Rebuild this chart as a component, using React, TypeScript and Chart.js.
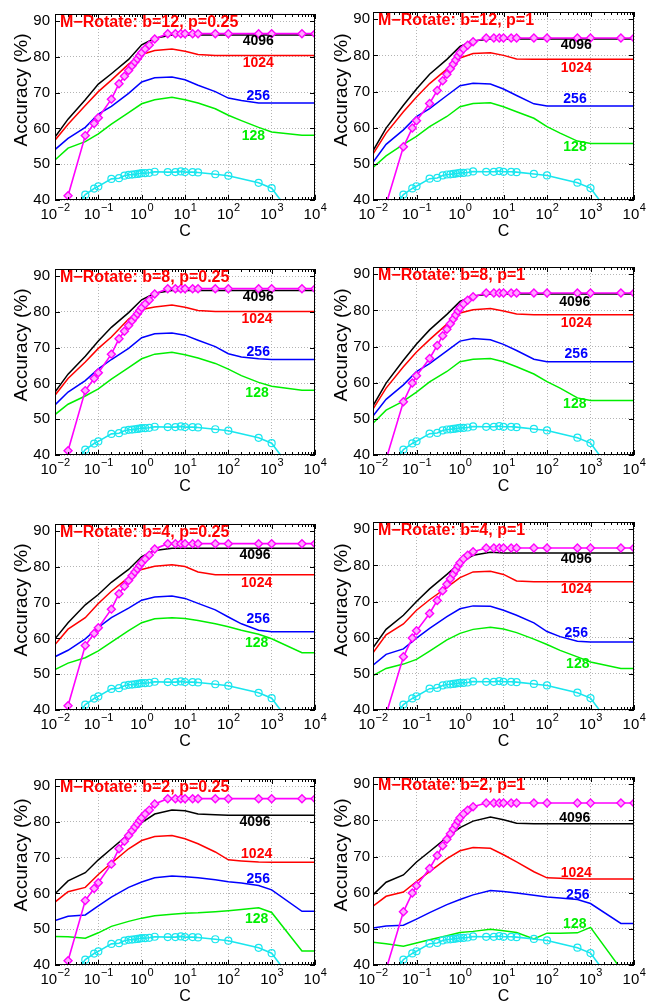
import React, { useEffect, useRef } from 'react';
import { Chart, registerables } from 'chart.js';

Chart.register(...registerables);

const FONT = "'Liberation Sans', Arial, Helvetica, sans-serif";

// x values (C) for the four code-length curves
const C_LINE = [0.01, 0.02, 0.05, 0.1, 0.2, 0.5, 1, 2, 5, 10, 20, 50, 100, 200, 500, 1000, 5000, 10000];
// x values (C) for the two marker curves
const C_MARK = [0.02, 0.05, 0.08, 0.1, 0.2, 0.3, 0.4, 0.5, 0.6, 0.7, 0.8, 0.9, 1, 1.2, 1.5, 2, 4, 6, 8, 10, 15, 20, 50, 100, 500, 1000, 5000, 10000];

const MAGENTA_P025 = [41.2, 58.0, 61.4, 63.0, 68.2, 72.5, 74.6, 76.2, 77.5, 78.6, 79.5, 80.4, 81.2, 82.2, 83.3, 85.0, 86.5, 86.5, 86.5, 86.5, 86.5, 86.5, 86.5, 86.5, 86.5, 86.5, 86.5, 86.5];
const MAGENTA_P1 = [38.8, 54.7, 59.9, 61.9, 66.7, 70.3, 73.0, 74.8, 76.3, 77.6, 78.7, 79.8, 80.7, 81.8, 82.8, 83.8, 84.8, 84.8, 84.8, 84.8, 84.8, 84.8, 84.8, 84.8, 84.8, 84.8, 84.8, 84.8];
const CYAN = [35.0, 41.5, 43.2, 43.8, 45.9, 46.1, 46.8, 47.05, 47.1, 47.2, 47.3, 47.4, 47.5, 47.5, 47.6, 47.9, 47.8, 47.8, 48.0, 47.8, 47.8, 47.7, 47.2, 46.8, 44.8, 43.3, 32.0, 25.0];

const Y_TICKS = [40, 50, 60, 70, 80, 90];
const X_TICKS = [0.01, 0.1, 1, 10, 100, 1000, 10000];
const X_EXP = ['\u22122', '\u22121', '0', '1', '2', '3', '4'];
const CURVE_LABELS = ['4096', '1024', '256', '128'];

// b=12, p=0.25
const B12_P025_4096 = [57.6, 62.6, 68.0, 72.4, 75.3, 79.3, 83.4, 85.2, 86.1, 86.1, 86.1, 86.1, 86.1, 86.1, 86.1, 86.1, 86.1, 86.1];
const B12_P025_1024 = [56.7, 61.2, 66.4, 70.3, 73.5, 78.0, 80.7, 81.8, 82.2, 81.6, 80.7, 80.4, 80.4, 80.4, 80.4, 80.4, 80.4, 80.4];
const B12_P025_256 = [54.1, 57.2, 60.3, 64.0, 66.2, 69.8, 73.0, 74.2, 74.4, 73.6, 72.1, 70.3, 68.5, 67.8, 67.1, 67.1, 67.1, 67.1];
const B12_P025_128 = [51.2, 54.5, 56.3, 58.5, 61.2, 64.4, 66.9, 68.0, 68.7, 68.0, 67.1, 65.5, 63.7, 62.2, 60.3, 59.0, 58.1, 58.1];
const B12_P025_LABEL_Y = [84.3, 78.4, 68.9, 57.8];
const B12_P025_LABEL_C = [490, 490, 490, 380];

// b=12, p=1
const B12_P1_4096 = [53.6, 59.9, 66.2, 70.7, 74.8, 78.9, 82.5, 84.0, 84.5, 84.5, 84.5, 84.5, 84.5, 84.5, 84.5, 84.5, 84.5, 84.5];
const B12_P1_1024 = [52.7, 58.5, 64.4, 68.5, 72.2, 76.2, 79.3, 80.5, 80.7, 80.0, 79.0, 78.9, 78.9, 78.9, 78.9, 78.9, 78.9, 78.9];
const B12_P1_256 = [50.4, 55.4, 59.4, 63.1, 65.3, 68.9, 71.6, 72.3, 72.1, 70.7, 68.9, 66.6, 66.0, 66.0, 66.0, 66.0, 66.0, 66.0];
const B12_P1_128 = [49.0, 52.2, 55.4, 57.6, 60.3, 63.1, 65.8, 66.7, 66.9, 65.8, 64.4, 62.6, 60.3, 58.5, 56.3, 55.6, 55.6, 55.6];
const B12_P1_LABEL_Y = [82.7, 76.6, 68.0, 54.5];
const B12_P1_LABEL_C = [470, 470, 440, 440];

// b=8, p=0.25
const B8_P025_4096 = [57.6, 62.6, 67.6, 71.9, 75.7, 79.8, 83.4, 85.2, 86.0, 86.0, 86.0, 86.0, 86.0, 86.0, 86.0, 86.0, 86.0, 86.0];
const B8_P025_1024 = [56.7, 61.4, 66.0, 69.8, 73.0, 78.0, 80.7, 81.4, 81.9, 81.3, 80.4, 80.1, 80.1, 80.1, 80.1, 80.1, 80.1, 80.1];
const B8_P025_256 = [54.0, 57.6, 60.8, 64.1, 66.7, 69.8, 72.8, 73.9, 74.1, 73.5, 72.1, 70.3, 68.3, 67.4, 66.9, 66.7, 66.7, 66.7];
const B8_P025_128 = [51.3, 54.2, 56.5, 58.5, 61.2, 64.4, 66.9, 68.2, 68.7, 68.0, 67.1, 65.6, 64.0, 62.2, 60.3, 59.2, 58.1, 58.1];
const B8_P025_LABEL_Y = [84.0, 78.0, 68.7, 57.4];
const B8_P025_LABEL_C = [490, 460, 490, 460];

// b=8, p=1
const B8_P1_4096 = [53.6, 59.9, 66.2, 70.7, 74.6, 78.9, 82.5, 84.0, 84.5, 84.5, 84.5, 84.5, 84.5, 84.5, 84.5, 84.5, 84.5, 84.5];
const B8_P1_1024 = [52.7, 58.5, 64.4, 68.5, 71.9, 76.2, 79.3, 80.2, 80.5, 79.8, 79.0, 78.8, 78.8, 78.8, 78.8, 78.8, 78.8, 78.8];
const B8_P1_256 = [50.8, 55.4, 59.4, 63.1, 65.3, 68.8, 71.5, 72.2, 71.9, 70.6, 68.9, 66.5, 65.8, 65.8, 65.8, 65.8, 65.8, 65.8];
const B8_P1_128 = [48.8, 52.4, 54.9, 57.4, 60.2, 63.1, 65.8, 66.5, 66.7, 65.8, 64.4, 62.4, 60.3, 58.5, 55.8, 55.1, 55.1, 55.1];
const B8_P1_LABEL_Y = [82.2, 76.6, 68.0, 54.0];
const B8_P1_LABEL_C = [435, 470, 470, 435];

// b=4, p=0.25
const B4_P025_4096 = [59.9, 64.4, 69.4, 72.3, 75.7, 79.3, 82.9, 84.6, 85.2, 85.2, 85.2, 85.2, 85.2, 85.2, 85.2, 85.2, 85.2, 85.2];
const B4_P025_1024 = [58.3, 62.6, 65.8, 69.8, 73.2, 77.1, 79.3, 80.2, 80.6, 80.1, 78.6, 77.8, 77.8, 77.8, 77.8, 77.8, 77.8, 77.8];
const B4_P025_256 = [54.9, 56.7, 59.9, 63.1, 65.8, 68.5, 70.7, 71.6, 71.9, 71.2, 69.8, 68.0, 66.0, 64.1, 62.3, 61.9, 61.9, 61.9];
const B4_P025_128 = [51.3, 53.1, 54.6, 56.5, 59.0, 62.2, 64.4, 65.5, 65.8, 65.6, 65.0, 64.1, 63.3, 62.3, 61.2, 59.9, 56.0, 56.0];
const B4_P025_LABEL_Y = [83.4, 75.5, 65.5, 58.7];
const B4_P025_LABEL_C = [413, 450, 490, 450];

// b=4, p=1
const B4_P1_4096 = [57.2, 62.3, 66.2, 70.0, 73.5, 77.5, 80.7, 82.8, 83.6, 83.4, 83.4, 83.4, 83.4, 83.4, 83.4, 83.4, 83.4, 83.4];
const B4_P1_1024 = [55.8, 60.8, 63.8, 67.6, 70.5, 73.9, 76.6, 78.2, 78.4, 77.5, 75.7, 75.5, 75.5, 75.5, 75.5, 75.5, 75.5, 75.5];
const B4_P1_256 = [52.4, 55.4, 56.9, 59.9, 62.6, 65.8, 68.0, 68.8, 68.7, 67.6, 66.2, 64.1, 61.7, 60.3, 59.0, 58.8, 58.8, 58.8];
const B4_P1_128 = [49.5, 51.5, 52.7, 54.0, 56.3, 59.4, 61.2, 62.3, 62.9, 62.4, 61.4, 59.6, 58.1, 56.5, 54.7, 53.3, 51.5, 51.5];
const B4_P1_LABEL_Y = [81.6, 73.5, 61.2, 52.8];
const B4_P1_LABEL_C = [470, 470, 470, 510];

// b=2, p=0.25
const B2_P025_4096 = [59.9, 63.5, 65.8, 69.4, 72.5, 76.6, 79.8, 82.2, 83.3, 83.1, 82.2, 82.0, 81.9, 81.9, 81.9, 81.9, 81.9, 81.9];
const B2_P025_1024 = [57.6, 60.5, 61.7, 65.3, 68.5, 72.5, 74.8, 75.9, 76.2, 75.3, 73.9, 71.6, 69.4, 69.1, 68.8, 68.7, 68.7, 68.7];
const B2_P025_256 = [52.4, 53.6, 54.0, 56.5, 59.0, 61.7, 63.2, 64.4, 64.9, 64.7, 64.4, 63.8, 63.3, 62.9, 62.2, 61.0, 55.0, 55.0];
const B2_P025_128 = [48.0, 47.9, 47.5, 49.0, 50.8, 52.2, 53.1, 53.8, 54.2, 54.5, 54.6, 54.9, 55.2, 55.5, 56.0, 54.7, 43.9, 43.9];
const B2_P025_LABEL_Y = [79.8, 71.0, 64.0, 52.9];
const B2_P025_LABEL_C = [413, 450, 490, 450];

// b=2, p=1
const B2_P1_4096 = [59.4, 62.9, 64.9, 68.5, 71.4, 75.3, 78.0, 79.8, 80.9, 80.2, 79.2, 79.1, 79.1, 79.1, 79.1, 79.1, 79.1, 79.1];
const B2_P1_1024 = [56.3, 59.0, 60.2, 63.1, 65.8, 69.4, 71.6, 72.5, 72.3, 70.5, 68.5, 65.8, 64.1, 64.0, 63.8, 63.8, 63.8, 63.8];
const B2_P1_256 = [50.2, 50.8, 51.0, 52.7, 54.5, 56.7, 58.1, 59.4, 60.6, 60.3, 59.9, 59.3, 58.8, 58.5, 58.1, 57.0, 51.5, 51.5];
const B2_P1_128 = [46.3, 45.9, 45.2, 46.1, 47.0, 48.1, 49.0, 49.3, 49.9, 49.5, 49.0, 47.2, 48.8, 48.8, 48.9, 50.4, 38.9, 38.9];
const B2_P1_LABEL_Y = [80.7, 65.3, 59.4, 51.3];
const B2_P1_LABEL_C = [435, 470, 510, 435];

const CURVE_COLORS = ['#000000', '#ff0000', '#0000ff', '#00ee00'];
const MAGENTA = '#ff00ff';
const CYAN_COLOR = '#19e6ee';

const PANELS = [
  { title: 'M\u2212Rotate: b=12, p=0.25', col: 0, row: 0, curves: [B12_P025_4096, B12_P025_1024, B12_P025_256, B12_P025_128], magenta: MAGENTA_P025, labelY: B12_P025_LABEL_Y, labelC: B12_P025_LABEL_C },
  { title: 'M\u2212Rotate: b=12, p=1', col: 1, row: 0, curves: [B12_P1_4096, B12_P1_1024, B12_P1_256, B12_P1_128], magenta: MAGENTA_P1, labelY: B12_P1_LABEL_Y, labelC: B12_P1_LABEL_C },
  { title: 'M\u2212Rotate: b=8, p=0.25', col: 0, row: 1, curves: [B8_P025_4096, B8_P025_1024, B8_P025_256, B8_P025_128], magenta: MAGENTA_P025, labelY: B8_P025_LABEL_Y, labelC: B8_P025_LABEL_C },
  { title: 'M\u2212Rotate: b=8, p=1', col: 1, row: 1, curves: [B8_P1_4096, B8_P1_1024, B8_P1_256, B8_P1_128], magenta: MAGENTA_P1, labelY: B8_P1_LABEL_Y, labelC: B8_P1_LABEL_C },
  { title: 'M\u2212Rotate: b=4, p=0.25', col: 0, row: 2, curves: [B4_P025_4096, B4_P025_1024, B4_P025_256, B4_P025_128], magenta: MAGENTA_P025, labelY: B4_P025_LABEL_Y, labelC: B4_P025_LABEL_C },
  { title: 'M\u2212Rotate: b=4, p=1', col: 1, row: 2, curves: [B4_P1_4096, B4_P1_1024, B4_P1_256, B4_P1_128], magenta: MAGENTA_P1, labelY: B4_P1_LABEL_Y, labelC: B4_P1_LABEL_C },
  { title: 'M\u2212Rotate: b=2, p=0.25', col: 0, row: 3, curves: [B2_P025_4096, B2_P025_1024, B2_P025_256, B2_P025_128], magenta: MAGENTA_P025, labelY: B2_P025_LABEL_Y, labelC: B2_P025_LABEL_C },
  { title: 'M\u2212Rotate: b=2, p=1', col: 1, row: 3, curves: [B2_P1_4096, B2_P1_1024, B2_P1_256, B2_P1_128], magenta: MAGENTA_P1, labelY: B2_P1_LABEL_Y, labelC: B2_P1_LABEL_C },
];

const ROW_H = 255;
const COL_X = [0, 328];
const COL_W = [328, 329];
const GEOM = [
  { left: 55, right: 315, tickPad: 5, yTitleX: 22 },
  { left: 45, right: 306, tickPad: 3, yTitleX: 13.5 },
];
const PLOT_TOP = 8;
const PLOT_BOTTOM = 200;
const Y_TITLE_CENTER = 90;

function zip(xs: number[], ys: number[]) {
  return xs.map((x, i) => ({ x, y: ys[i] }));
}

function Panel({ panel }: { panel: any }) {
  const ref = useRef<HTMLCanvasElement | null>(null);
  useEffect(() => {
    const canvas = ref.current;
    if (!canvas) return;
    const W = COL_W[panel.col];
    const H = ROW_H;
    const g = GEOM[panel.col];

    const datasets: any[] = [];
    datasets.push({
      data: zip(C_MARK, panel.magenta),
      borderColor: MAGENTA,
      backgroundColor: '#ff9cff',
      borderWidth: 1.6,
      pointStyle: 'rectRot',
      pointRadius: 4,
      pointBorderWidth: 1.4,
      pointBorderColor: MAGENTA,
      pointBackgroundColor: '#ffa8ff',
    });
    datasets.push({
      data: zip(C_MARK, CYAN),
      borderColor: CYAN_COLOR,
      backgroundColor: 'rgba(0,0,0,0)',
      borderWidth: 1.6,
      pointStyle: 'circle',
      pointRadius: 3.5,
      pointBorderWidth: 1.2,
      pointBorderColor: CYAN_COLOR,
      pointBackgroundColor: 'rgba(255,255,255,0)',
    });
    panel.curves.forEach((vals: number[], i: number) => {
      datasets.push({
        data: zip(C_LINE, vals),
        borderColor: CURVE_COLORS[i],
        backgroundColor: CURVE_COLORS[i],
        borderWidth: 1.5,
        pointRadius: 0,
      });
    });

    const decor = {
      id: 'decor',
      afterDraw(chart: any) {
        const { ctx, chartArea: a, scales } = chart;
        const x = scales.x;
        const y = scales.y;
        ctx.save();
        // box
        ctx.strokeStyle = '#000';
        ctx.lineWidth = 1;
        ctx.strokeRect(Math.round(a.left) + 0.5, Math.round(a.top) + 0.5, Math.round(a.right - a.left) - 1, Math.round(a.bottom - a.top) - 1);
        // inner ticks
        ctx.beginPath();
        Y_TICKS.forEach((v) => {
          const py = Math.round(y.getPixelForValue(v)) + 0.5;
          ctx.moveTo(a.left, py); ctx.lineTo(a.left + 5, py);
          ctx.moveTo(a.right, py); ctx.lineTo(a.right - 5, py);
        });
        X_TICKS.forEach((v) => {
          const px = Math.round(x.getPixelForValue(v)) + 0.5;
          ctx.moveTo(px, a.bottom); ctx.lineTo(px, a.bottom - 5);
          ctx.moveTo(px, a.top); ctx.lineTo(px, a.top + 5);
        });
        for (let d = 0; d < X_TICKS.length - 1; d++) {
          for (let m = 2; m <= 9; m++) {
            const px = Math.round(x.getPixelForValue(X_TICKS[d] * m)) + 0.5;
            ctx.moveTo(px, a.bottom); ctx.lineTo(px, a.bottom - 3);
            ctx.moveTo(px, a.top); ctx.lineTo(px, a.top + 3);
          }
        }
        ctx.stroke();
        // x tick labels 10^k
        ctx.fillStyle = '#000';
        ctx.textAlign = 'left';
        ctx.textBaseline = 'alphabetic';
        X_TICKS.forEach((v, i) => {
          const px = x.getPixelForValue(v);
          ctx.font = `15px ${FONT}`;
          const w1 = ctx.measureText('10').width;
          ctx.font = `11px ${FONT}`;
          const w2 = ctx.measureText(X_EXP[i]).width;
          const start = px - (w1 + w2) / 2;
          ctx.font = `15px ${FONT}`;
          ctx.fillText('10', start, a.bottom + 19);
          ctx.font = `11px ${FONT}`;
          ctx.fillText(X_EXP[i], start + w1 + 0.5, a.bottom + 11);
        });
        // y axis title
        ctx.save();
        ctx.translate(g.yTitleX, Y_TITLE_CENTER);
        ctx.rotate(-Math.PI / 2);
        ctx.font = `19px ${FONT}`;
        ctx.textAlign = 'center';
        ctx.textBaseline = 'middle';
        ctx.fillStyle = '#000';
        ctx.fillText('Accuracy (%)', 0, 0);
        ctx.restore();
        // curve labels
        ctx.font = `bold 14px ${FONT}`;
        ctx.textAlign = 'center';
        ctx.textBaseline = 'middle';
        CURVE_LABELS.forEach((t, i) => {
          ctx.fillStyle = CURVE_COLORS[i];
          ctx.fillText(t, x.getPixelForValue(panel.labelC[i]), y.getPixelForValue(panel.labelY[i]));
        });
        // title
        ctx.font = `bold 16px ${FONT}`;
        ctx.textAlign = 'left';
        ctx.textBaseline = 'alphabetic';
        ctx.fillStyle = '#ff0000';
        ctx.fillText(panel.title, a.left + 5, a.top + 13);
        ctx.restore();
      },
    };

    const chart = new Chart(canvas, {
      type: 'line',
      data: { datasets },
      options: {
        responsive: false,
        animation: false,
        devicePixelRatio: 1,
        layout: { padding: { left: 0, top: PLOT_TOP, right: W - g.right, bottom: 0 } },
        plugins: { legend: { display: false }, tooltip: { enabled: false }, title: { display: false } },
        elements: { line: { tension: 0 } },
        scales: {
          x: {
            type: 'logarithmic',
            min: 0.01,
            max: 10000,
            afterBuildTicks: (scale: any) => { scale.ticks = X_TICKS.map((v) => ({ value: v, major: true })); },
            afterFit: (scale: any) => { scale.height = H - PLOT_BOTTOM; },
            ticks: { display: false, autoSkip: false },
            grid: { color: '#b4b4b4', lineWidth: 1, drawTicks: false },
            border: { display: false, dash: [1, 2] },
            title: { display: true, text: 'C', color: '#000', font: { family: FONT, size: 16 }, padding: { top: 0, bottom: 13.4 } },
          },
          y: {
            type: 'linear',
            min: 40,
            max: 92,
            afterBuildTicks: (scale: any) => { scale.ticks = Y_TICKS.map((v) => ({ value: v })); },
            afterFit: (scale: any) => { scale.width = g.left; },
            ticks: { color: '#000', font: { family: FONT, size: 15 }, padding: g.tickPad, autoSkip: false },
            grid: { color: '#b4b4b4', lineWidth: 1, drawTicks: false },
            border: { display: false, dash: [1, 2] },
            title: { display: false },
          },
        },
      },
      plugins: [decor],
    } as any);
    return () => chart.destroy();
  }, [panel]);

  return (
    <canvas
      ref={ref}
      width={COL_W[panel.col]}
      height={ROW_H}
      style={{ position: 'absolute', left: COL_X[panel.col], top: panel.row * ROW_H, width: COL_W[panel.col], height: ROW_H }}
    />
  );
}

export default function App() {
  return (
    <div style={{ position: 'absolute', left: 0, top: 0, width: 657, height: 1005, background: '#ffffff', overflow: 'hidden' }}>
      {PANELS.map((p, i) => (
        <Panel key={i} panel={p} />
      ))}
    </div>
  );
}
